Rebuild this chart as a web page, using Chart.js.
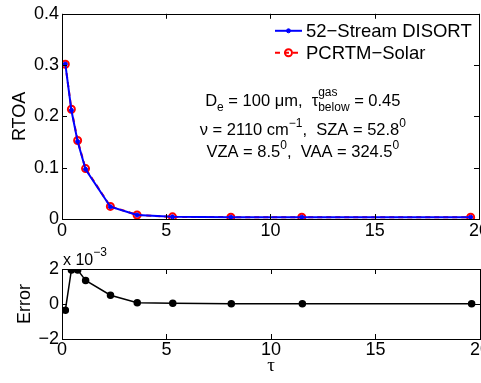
<!DOCTYPE html>
<html>
<head>
<meta charset="utf-8">
<script src="https://cdn.jsdelivr.net/npm/chart.js@4/dist/chart.umd.min.js"></script>
<style>
  html, body { margin: 0; padding: 0; background: #fff; overflow: hidden; width: 481px; height: 383px; }
  canvas { position: absolute; left: 0; }
</style>
</head>
<body>
<canvas id="topChart" width="490" height="243" style="top:0"></canvas>
<canvas id="errChart" width="490" height="140" style="top:243px"></canvas>
<script>
// Данные
const tau = [0.16, 0.45, 0.75, 1.13, 2.32, 3.6, 5.3, 8.1, 11.5, 19.6];
const disort = [0.302, 0.212, 0.151, 0.097, 0.024, 0.0078, 0.0042, 0.0036, 0.0036, 0.0036];
const pcrtm = [0.3017, 0.2140, 0.1530, 0.0983, 0.0245, 0.0079, 0.0042, 0.0036, 0.0036, 0.0036];
const errorE3 = [-0.35, 1.95, 1.95, 1.35, 0.5, 0.07, 0.04, 0.02, 0.02, 0.02];

const xTicks = [0, 5, 10, 15, 20];
const rtoaTicks = [0, 0.1, 0.2, 0.3, 0.4];
const errTicks = [-2, 0, 2];

const seriesNames = ["52\u2212Stream DISORT", "PCRTM\u2212Solar"];
const FONT = "'Liberation Sans', Arial, sans-serif";

function pts(xs, ys) {
  return xs.map(function (x, i) { return { x: x, y: ys[i] }; });
}

// рамка и внутренние засечки как в MATLAB
const framePlugin = {
  id: "frame",
  afterDatasetsDraw(chart) {
    const ctx = chart.ctx;
    const a = chart.chartArea;
    const sx = chart.scales.x;
    const sy = chart.scales.y;
    ctx.save();
    ctx.strokeStyle = "#000";
    ctx.lineWidth = 1;
    ctx.beginPath();
    sx.ticks.forEach(function (t) {
      const px = Math.round(sx.getPixelForValue(t.value)) + 0.5;
      ctx.moveTo(px, a.bottom); ctx.lineTo(px, a.bottom - 5);
      ctx.moveTo(px, a.top); ctx.lineTo(px, a.top + 5);
    });
    sy.ticks.forEach(function (t) {
      const py = Math.round(sy.getPixelForValue(t.value)) + 0.5;
      ctx.moveTo(a.left, py); ctx.lineTo(a.left + 5, py);
      ctx.moveTo(a.right, py); ctx.lineTo(a.right - 5, py);
    });
    ctx.stroke();
    ctx.strokeRect(Math.round(a.left) + 0.5, Math.round(a.top) + 0.5,
      Math.round(a.right - a.left), Math.round(a.bottom - a.top));
    ctx.restore();
  }
};

// текст с индексами: кусок = [строка, размер, сдвиг, "стопка" над/под]
function drawRuns(ctx, runs, cx, y) {
  let total = 0;
  runs.forEach(function (r) {
    ctx.font = r[1] + "px " + FONT;
    let w = ctx.measureText(r[0]).width;
    if (r[3]) { ctx.font = r[3][1] + "px " + FONT; w = Math.max(w, ctx.measureText(r[3][0]).width); }
    r.w = w;
    total += w;
  });
  let x = cx - total / 2;
  runs.forEach(function (r) {
    ctx.font = r[1] + "px " + FONT;
    ctx.fillText(r[0], x, y + r[2]);
    if (r[3]) { ctx.font = r[3][1] + "px " + FONT; ctx.fillText(r[3][0], x, y + r[3][2]); }
    x += r.w;
  });
}

const notePlugin = {
  id: "notes",
  afterDraw(chart) {
    const ctx = chart.ctx;
    const a = chart.chartArea;
    const sx = chart.scales.x;
    const sy = chart.scales.y;
    ctx.save();
    ctx.fillStyle = "#000";
    ctx.textBaseline = "alphabetic";
    ctx.textAlign = "left";
    const cx = sx.getPixelForValue(11.55);
    drawRuns(ctx, [
      ["D", 16.5, 0], ["e", 12, 5], [" = 100 \u03bcm,  \u03c4", 16.5, 0],
      ["gas", 12, -10, ["below", 12, 5]], [" = 0.45", 16.5, 0]
    ], cx, sy.getPixelForValue(0.2194));
    drawRuns(ctx, [
      ["\u03bd = 2110 cm", 16.5, 0], ["\u22121", 12, -8], [",  SZA = 52.8", 16.5, 0], ["0", 12, -8]
    ], cx, sy.getPixelForValue(0.1631));
    drawRuns(ctx, [
      ["VZA = 8.5", 16.5, 0], ["0", 12, -8], [",  VAA = 324.5", 16.5, 0], ["0", 12, -8]
    ], cx, sy.getPixelForValue(0.1204));

    // легенда
    const ds = chart.data.datasets;
    ctx.font = "18.5px " + FONT;
    ctx.textBaseline = "middle";
    ds.forEach(function (d, i) {
      const y = a.top + 17 + i * 22;
      const x0 = a.right - 204, x1 = a.right - 177;
      ctx.strokeStyle = d.borderColor;
      ctx.lineWidth = 2;
      ctx.setLineDash(d.borderDash || []);
      ctx.beginPath(); ctx.moveTo(x0, y); ctx.lineTo(x1, y); ctx.stroke();
      ctx.setLineDash([]);
      ctx.beginPath(); ctx.arc((x0 + x1) / 2, y, d.pointRadius, 0, Math.PI * 2);
      if (d.pointBackgroundColor !== "transparent") { ctx.fillStyle = d.pointBackgroundColor; ctx.fill(); }
      ctx.lineWidth = d.pointBorderWidth; ctx.strokeStyle = d.pointBorderColor; ctx.stroke();
      ctx.fillStyle = "#000";
      ctx.fillText(d.label, a.right - 173, y + 1);
    });
    ctx.restore();
  }
};

const expPlugin = {
  id: "exp",
  afterDraw(chart) {
    const ctx = chart.ctx;
    const a = chart.chartArea;
    ctx.save();
    ctx.fillStyle = "#000";
    ctx.textBaseline = "alphabetic";
    ctx.font = "16px " + FONT;
    ctx.fillText("x 10", a.left + 1, a.top - 4);
    const w = ctx.measureText("x 10").width;
    ctx.font = "12px " + FONT;
    ctx.fillText("\u22123", a.left + 1 + w, a.top - 13);
    ctx.restore();
  }
};

const tickFont = { family: FONT, size: 18 };

function xAxis(height, pad, title) {
  return {
    type: "linear", min: 0, max: 20,
    afterBuildTicks(s) { s.ticks = xTicks.map(function (v) { return { value: v }; }); },
    grid: { display: false, drawTicks: false }, border: { display: false },
    ticks: { color: "#000", font: tickFont, padding: pad, maxRotation: 0 },
    title: title,
    afterFit(s) { s.height = height; }
  };
}

// верхний график
new Chart(document.getElementById("topChart"), {
  type: "line",
  data: {
    datasets: [
      {
        label: seriesNames[0], data: pts(tau, disort),
        borderColor: "#0000ff", borderWidth: 2,
        pointRadius: 2, pointBackgroundColor: "#0000ff", pointBorderColor: "#0000ff", pointBorderWidth: 1,
        tension: 0
      },
      {
        label: seriesNames[1], data: pts(tau, pcrtm),
        borderColor: "#ff0000", borderWidth: 2, borderDash: [5, 4],
        pointRadius: 3.5, pointBackgroundColor: "transparent", pointBorderColor: "#ff0000", pointBorderWidth: 2,
        tension: 0
      }
    ]
  },
  options: {
    responsive: false, animation: false,
    layout: { padding: { top: 2, left: 0, right: 0, bottom: 0 } },
    plugins: { legend: { display: false }, tooltip: { enabled: false } },
    scales: {
      x: xAxis(24, 1, { display: false }),
      y: {
        type: "linear", min: 0, max: 0.4,
        afterBuildTicks(s) { s.ticks = rtoaTicks.map(function (v) { return { value: v }; }); },
        grid: { display: false, drawTicks: false }, border: { display: false },
        ticks: { color: "#000", font: tickFont, padding: 3 },
        title: { display: true, text: "RTOA", color: "#000", font: { family: FONT, size: 18 }, padding: { top: 9, bottom: 0 } },
        afterFit(s) { s.width = 62; }
      }
    }
  },
  plugins: [framePlugin, notePlugin]
});

// нижний график ошибки
new Chart(document.getElementById("errChart"), {
  type: "line",
  data: {
    datasets: [{
      label: "Error", data: pts(tau, errorE3),
      borderColor: "#000", borderWidth: 1.5,
      pointRadius: 3, pointBackgroundColor: "#000", pointBorderColor: "#000",
      tension: 0
    }]
  },
  options: {
    responsive: false, animation: false,
    layout: { padding: { top: 26, left: 0, right: 0, bottom: 0 } },
    plugins: { legend: { display: false }, tooltip: { enabled: false } },
    scales: {
      x: xAxis(44, 0, { display: true, text: "\u03c4", color: "#000", font: { family: "'Liberation Serif', serif", size: 19 }, padding: { top: 0, bottom: 6 } }),
      y: {
        type: "linear", min: -2, max: 2,
        afterBuildTicks(s) { s.ticks = errTicks.map(function (v) { return { value: v }; }); },
        grid: { display: false, drawTicks: false }, border: { display: false },
        ticks: {
          color: "#000", font: tickFont, padding: 3,
          callback: function (v) { return String(v).replace("-", "\u2212"); }
        },
        title: { display: true, text: "Error", color: "#000", font: { family: FONT, size: 18 }, padding: { top: 14, bottom: 0 } },
        afterFit(s) { s.width = 62; }
      }
    }
  },
  plugins: [framePlugin, expPlugin]
});
</script>
</body>
</html>
